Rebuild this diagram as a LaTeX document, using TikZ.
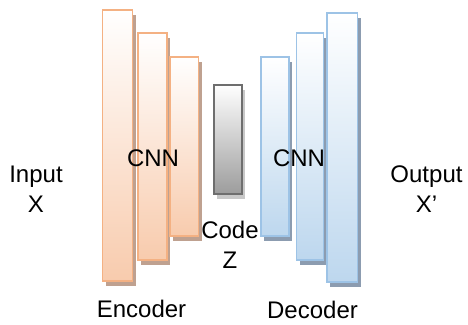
\documentclass[tikz,border=0pt]{standalone}
\usepackage{fontspec}
\setmainfont{Liberation Sans}
\usepackage{tikz}
\usetikzlibrary{shadows, positioning}

\definecolor{encline}{HTML}{F4B183}
\definecolor{encfill}{HTML}{F8CBAD}
\definecolor{encshade}{HTML}{BFA190}
\definecolor{decline}{HTML}{9DC3E6}
\definecolor{decfill}{HTML}{BDD7EE}
\definecolor{decshade}{HTML}{8C9CB0}
\definecolor{codeline}{HTML}{6E6E6E}
\definecolor{codefill}{HTML}{9C9C9C}
\definecolor{codeshade}{HTML}{C8C8C8}

\tikzset{
	bar/.style={draw, line width=1.6pt, inner sep=0pt},
	encbar/.style={bar, draw=encline, top color=white, bottom color=encfill,
		drop shadow={shadow xshift=3pt, shadow yshift=-5pt, fill=encshade, opacity=1}},
	decbar/.style={bar, draw=decline, top color=white, bottom color=decfill,
		drop shadow={shadow xshift=3pt, shadow yshift=-5pt, fill=decshade, opacity=1}},
	codebar/.style={bar, draw=codeline, top color=white, bottom color=codefill,
		drop shadow={shadow xshift=3pt, shadow yshift=-5pt, fill=codeshade, opacity=1}},
	label/.style={font=\fontsize{24}{30}\selectfont, align=center, inner sep=0pt}
}

\begin{document}
\begin{tikzpicture}[x=1pt, y=-1pt]
				\useasboundingbox (0, 0) rectangle (468, 324);

				\node (Enc1) [encbar, minimum width=30pt, minimum height=271.4pt] at (117.5, 145.5) {};
				\node (Enc2) [encbar, minimum width=28.8pt, minimum height=227.4pt] at (152.5, 146.5) {};
				\node (Enc3) [encbar, minimum width=28.7pt, minimum height=179.4pt] at (184.2, 146.5) {};

				\node (Code) [codebar, minimum width=27.8pt, minimum height=109.4pt] at (228, 139.5) {};

				\node (Dec1) [decbar, minimum width=28.4pt, minimum height=179.4pt] at (275, 146.5) {};
				\node (Dec2) [decbar, minimum width=27pt, minimum height=227.4pt] at (310, 146.5) {};
				\node (Dec3) [decbar, minimum width=30.7pt, minimum height=269.4pt] at (342.2, 147.5) {};

				\node (EncCNN) [label] at (153, 158) {CNN};
				\node (DecCNN) [label] at (299, 158) {CNN};
				\node (CodeZ) [label] at (230, 245) {Code\\Z};

				\node (In) [label] at (36, 189) {Input\\X};
				\node (Out) [label] at (426.5, 189) {Output\\X’};

				\node (EncName) [label] at (141.5, 309) {Encoder};
				\node (DecName) [label] at (312.5, 310) {Decoder};
			\end{tikzpicture}
\end{document}
